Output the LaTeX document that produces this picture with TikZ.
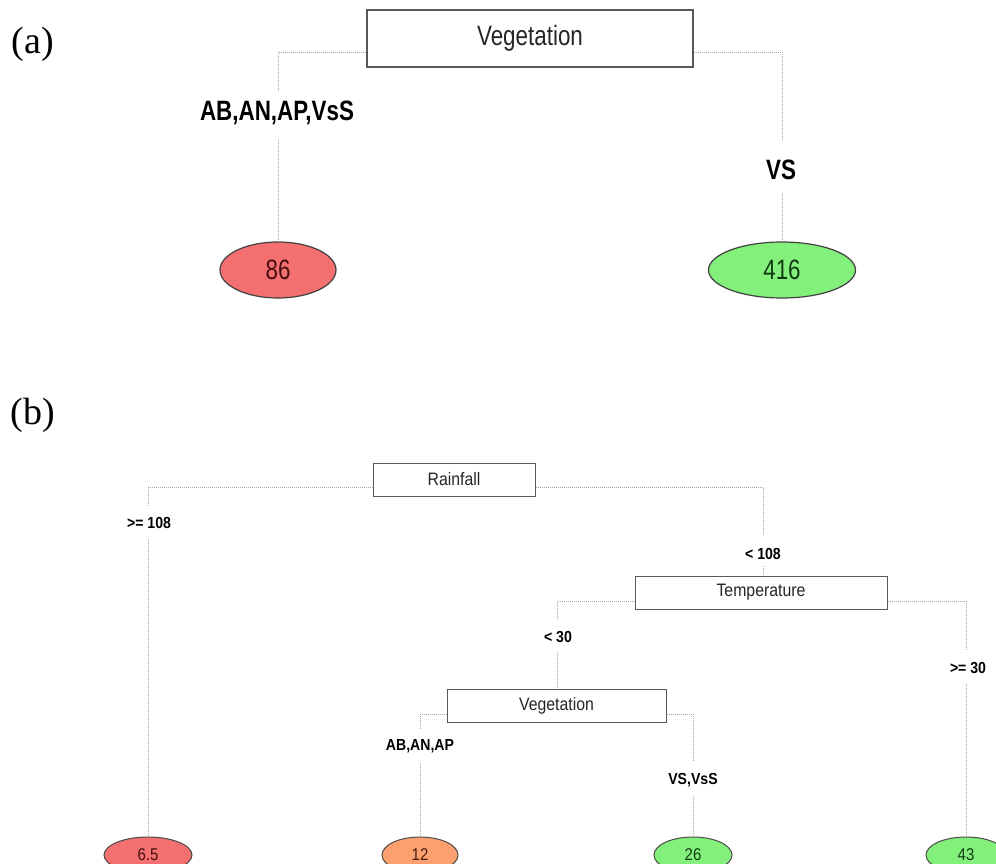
\documentclass[tikz,border=0pt]{standalone}
\usepackage{fontspec}
\setmainfont{Liberation Serif}
\newfontfamily\fa[FakeStretch=0.8]{Liberation Sans}
\newfontfamily\fb[FakeStretch=0.88]{Liberation Sans}
\usetikzlibrary{shapes.geometric}
\definecolor{leafred}{HTML}{F46F6F}
\definecolor{leaforange}{HTML}{FCA070}
\definecolor{leafgreen}{HTML}{84F07C}
\definecolor{connc}{HTML}{A8A8A8}
\tikzset{
  conn/.style={draw=connc, line width=0.9pt, dash pattern=on 1pt off 1pt},
  splitA/.style={draw=black!65, line width=1.5pt, fill=white, rectangle, inner sep=0pt,
    font=\fa\fontsize{28}{30}\selectfont, text=black!85},
  splitB/.style={draw=black!65, line width=1pt, fill=white, rectangle, inner sep=0pt,
    font=\fb\fontsize{18}{20}\selectfont, text=black!85},
  labA/.style={inner sep=0pt, font=\fa\bfseries\fontsize{28}{30}\selectfont},
  labB/.style={inner sep=0pt, font=\fb\bfseries\fontsize{16}{18}\selectfont},
  leafA/.style={ellipse, draw=black!75, line width=1.2pt, inner sep=0pt,
    font=\fa\fontsize{28}{30}\selectfont},
  leafB/.style={ellipse, draw=black!70, line width=1pt, inner sep=0pt,
    font=\fb\fontsize{17}{19}\selectfont},
  panel/.style={inner sep=0pt, font=\fontsize{38}{40}\selectfont}
}
\begin{document}
\begin{tikzpicture}[x=1pt,y=-1pt]
\useasboundingbox (0,0) rectangle (996,863);
\clip (0,0) rectangle (996,863);
\fill[white] (0,0) rectangle (996,863);

% ---------- panel (a)
\node[panel] (pa) at (33,44) {(a)};
\node[splitA, minimum width=326pt, minimum height=57pt] (vegA) at (530,38.5) {Vegetation};
\node[labA] (lAL) at (277,113) {AB,AN,AP,VsS};
\node[labA] (lAR) at (781,170) {VS};
\node[leafA, fill=leafred, minimum width=116pt, minimum height=56pt, text={rgb,255:red,70;green,15;blue,15}] (e86) at (278,270) {86};
\node[leafA, fill=leafgreen, minimum width=147pt, minimum height=56pt, text={rgb,255:red,15;green,60;blue,15}] (e416) at (782,270) {416};
\coordinate (aL) at (278,52);
\coordinate (aR) at (782,52);
\draw[conn] ([yshift=-13.5pt]vegA.west) -- (aL) -- ([yshift=10pt]lAL.north -| aL);
\draw[conn] ([yshift=-14pt]lAL.south -| aL) -- (e86.north);
\draw[conn] ([yshift=-13.5pt]vegA.east) -- (aR) -- ([yshift=20pt]lAR.north -| aR);
\draw[conn] ([yshift=-13pt]lAR.south -| aR) -- (e416.north);

% ---------- panel (b)
\node[panel] (pb) at (33,415) {(b)};
\node[splitB, minimum width=162pt, minimum height=33pt] (rain) at (454,479.5) {Rainfall};
\node[splitB, minimum width=252pt, minimum height=33pt] (temp) at (761,592.5) {Temperature};
\node[splitB, minimum width=219pt, minimum height=33pt] (vegB) at (556.5,705.5) {Vegetation};

\node[labB] (l108a) at (149,523) {>= 108};
\node[labB] (l108b) at (763,554) {< 108};
\node[labB] (l30a) at (558,637) {< 30};
\node[labB] (l30b) at (968,668) {>= 30};
\node[labB] (lABP) at (420,746) {AB,AN,AP};
\node[labB] (lVS) at (693,780) {VS,VsS};

\node[leafB, fill=leafred, minimum width=88pt, minimum height=36pt, text={rgb,255:red,70;green,15;blue,15}] (e65) at (148,855) {6.5};
\node[leafB, fill=leaforange, minimum width=76pt, minimum height=36pt, text={rgb,255:red,70;green,30;blue,10}] (e12) at (420,855) {12};
\node[leafB, fill=leafgreen, minimum width=78pt, minimum height=36pt, text={rgb,255:red,15;green,60;blue,15}] (e26) at (693,855) {26};
\node[leafB, fill=leafgreen, minimum width=80pt, minimum height=36pt, text={rgb,255:red,15;green,60;blue,15}] (e43) at (966,855) {43};

\coordinate (rL) at (148,487);
\coordinate (rR) at (763,487);
\draw[conn] ([yshift=-7.5pt]rain.west) -- (rL) -- ([yshift=12pt]l108a.north -| rL);
\draw[conn] ([yshift=-10pt]l108a.south -| rL) -- (e65.north);
\draw[conn] ([yshift=-7.5pt]rain.east) -- (rR) -- ([yshift=14pt]l108b.north -| rR);
\draw[conn] ([yshift=-6pt]l108b.south -| rR) -- (temp.north -| rR);

\coordinate (tL) at (557,601);
\coordinate (tR) at (966,601);
\draw[conn] ([yshift=-8.5pt]temp.west) -- (tL) -- ([yshift=12pt]l30a.north -| tL);
\draw[conn] ([yshift=-10pt]l30a.south -| tL) -- (vegB.north -| tL);
\draw[conn] ([yshift=-8.5pt]temp.east) -- (tR) -- ([yshift=13pt]l30b.north -| tR);
\draw[conn] ([yshift=-10pt]l30b.south -| tR) -- (e43.north);

\coordinate (vL) at (420,714);
\coordinate (vR) at (693,714);
\draw[conn] ([yshift=-8.5pt]vegB.west) -- (vL) -- ([yshift=10pt]lABP.north -| vL);
\draw[conn] ([yshift=-10pt]lABP.south -| vL) -- (e12.north);
\draw[conn] ([yshift=-8.5pt]vegB.east) -- (vR) -- ([yshift=12pt]lVS.north -| vR);
\draw[conn] ([yshift=-10pt]lVS.south -| vR) -- (e26.north);
\end{tikzpicture}
\end{document}
